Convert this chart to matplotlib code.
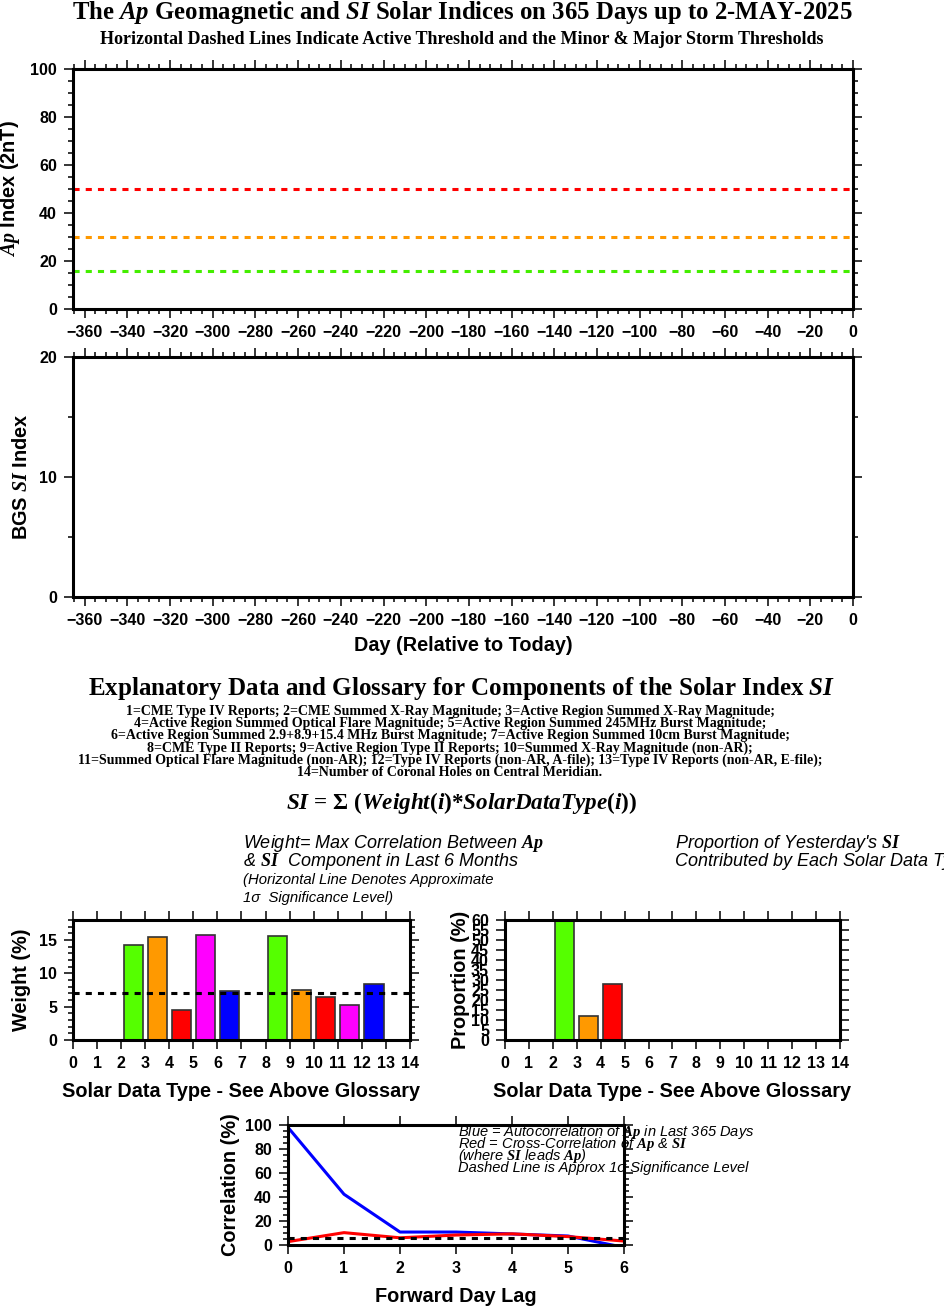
import matplotlib
matplotlib.use('Agg')
import matplotlib.pyplot as plt
from matplotlib.ticker import MultipleLocator

# thresholds on the Ap panel (active, minor storm, major storm)
ap_thresholds = [16, 30, 50]
ap_threshold_colors = ['#44ee00', '#ff9900', '#ff0000']

# weights and proportions per solar data type (1..14)
types = list(range(1, 15))
weights = [0, 0, 14.2, 15.4, 4.45, 15.7, 7.35, 0, 15.65, 7.45, 6.45, 5.2, 8.35, 0]
weight_sig = 7.07
proportions = [0, 0, 60.2, 12.0, 27.8, 0, 0, 0, 0, 0, 0, 0, 0, 0]
type_colors = ['#0000ff', '#ffffff', '#55ff00', '#ff9900', '#ff0000', '#ff00ff', '#0000ff',
               '#ffffff', '#55ff00', '#ff9900', '#ff0000', '#ff00ff', '#0000ff', '#ffffff']

# correlations vs forward lag
lags = [0, 1, 2, 3, 4, 5, 6]
auto_corr = [98, 42.3, 10.8, 10.8, 9.2, 7.5, -2]
cross_corr = [2.8, 10.3, 6.0, 8.3, 9.3, 7.0, 3.3]
corr_sig = 5.5

W, H = 945, 1307
plt.rcParams['font.family'] = ['Liberation Sans', 'DejaVu Sans']
plt.rcParams['font.weight'] = 'bold'
plt.rcParams['mathtext.fontset'] = 'custom'
plt.rcParams['mathtext.it'] = 'Liberation Serif:italic:bold'
plt.rcParams['mathtext.rm'] = 'Liberation Serif:bold'
plt.rcParams['mathtext.bf'] = 'Liberation Serif:bold'
plt.rcParams['axes.linewidth'] = 2.2

fig = plt.figure(figsize=(W / 100, H / 100), dpi=100)


def box(x0, y0, x1, y1):
    return [x0 / W, 1 - y1 / H, (x1 - x0) / W, (y1 - y0) / H]


def px(x, y):
    return x / W, 1 - y / H


def style_ticks(ax, size=11.5):
    ax.tick_params(which='both', direction='out', top=True, right=True, width=1.1,
                   labelsize=size, pad=5)
    ax.tick_params(which='major', length=6.5)
    ax.tick_params(which='minor', length=3.5)
    for lab in ax.get_xticklabels() + ax.get_yticklabels():
        lab.set_fontweight('bold')


LBL = 14.3

# --- Ap panel ---
ax1 = fig.add_axes(box(73, 69, 853, 309))
for v, c in zip(ap_thresholds, ap_threshold_colors):
    ax1.axhline(v, color=c, lw=2.2, ls=(0, (2, 2)))
ax1.set_xlim(-365.5, 0)
ax1.set_ylim(0, 100)
ax1.xaxis.set_major_locator(MultipleLocator(20))
ax1.xaxis.set_minor_locator(MultipleLocator(5))
ax1.yaxis.set_major_locator(MultipleLocator(20))
ax1.yaxis.set_minor_locator(MultipleLocator(5))
style_ticks(ax1)
ax1.set_ylabel(r'$Ap$ Index (2nT)', fontsize=LBL, fontweight='bold', labelpad=6)

# --- SI panel ---
ax2 = fig.add_axes(box(73, 357, 853, 597))
ax2.set_xlim(-365.5, 0)
ax2.set_ylim(0, 20)
ax2.xaxis.set_major_locator(MultipleLocator(20))
ax2.xaxis.set_minor_locator(MultipleLocator(5))
ax2.yaxis.set_major_locator(MultipleLocator(10))
ax2.yaxis.set_minor_locator(MultipleLocator(5))
style_ticks(ax2)
ax2.set_ylabel(r'BGS $SI$ Index', fontsize=LBL, fontweight='bold', labelpad=6)
ax2.set_xlabel('Day (Relative to Today)', fontsize=LBL, fontweight='bold', labelpad=6)

# --- titles and glossary ---
fig.text(*px(462, 13), r'The $Ap$ Geomagnetic and $SI$ Solar Indices on 365 Days up to 2-MAY-2025',
         family='Liberation Serif', fontsize=17.8, fontweight='bold', ha='center', va='center')
fig.text(*px(462, 39), 'Horizontal Dashed Lines Indicate Active Threshold and the Minor & Major Storm Thresholds',
         family='Liberation Serif', fontsize=13, fontweight='bold', ha='center', va='center')
fig.text(*px(462, 689), r'Explanatory Data and Glossary for Components of the Solar Index $SI$',
         family='Liberation Serif', fontsize=18, fontweight='bold', ha='center', va='center')
glossary = [
    '1=CME Type IV Reports; 2=CME Summed X-Ray Magnitude; 3=Active Region Summed X-Ray Magnitude;',
    '4=Active Region Summed Optical Flare Magnitude; 5=Active Region Summed 245MHz Burst Magnitude;',
    '6=Active Region Summed 2.9+8.9+15.4 MHz Burst Magnitude; 7=Active Region Summed 10cm Burst Magnitude;',
    '8=CME Type II Reports; 9=Active Region Type II Reports; 10=Summed X-Ray Magnitude (non-AR);',
    '11=Summed Optical Flare Magnitude (non-AR); 12=Type IV Reports (non-AR, A-file); 13=Type IV Reports (non-AR, E-file);',
    '14=Number of Coronal Holes on Central Meridian.',
]
for i, line in enumerate(glossary):
    fig.text(*px(450, 712 + 12 * i), line, family='Liberation Serif', fontsize=10,
             fontweight='bold', ha='center', va='center')
fig.text(*px(462, 803), r'$SI$ = $\Sigma$ ($Weight$($i$)*$SolarDataType$($i$))',
         family='Liberation Serif', fontsize=16.7, fontweight='bold', ha='center', va='center')

fig.text(*px(243, 843), r'Weight= Max Correlation Between $Ap$', fontsize=13,
         fontweight='normal', style='italic', va='center')
fig.text(*px(243, 861), r'& $SI$  Component in Last 6 Months', fontsize=13,
         fontweight='normal', style='italic', va='center')
fig.text(*px(243, 880), '(Horizontal Line Denotes Approximate', fontsize=10.7,
         fontweight='normal', style='italic', va='center')
fig.text(*px(243, 898), '1σ  Significance Level)', fontsize=10.7,
         fontweight='normal', style='italic', va='center')
fig.text(*px(675, 843), r"Proportion of Yesterday's $SI$", fontsize=13,
         fontweight='normal', style='italic', va='center')
fig.text(*px(675, 861), 'Contributed by Each Solar Data Type', fontsize=13,
         fontweight='normal', style='italic', va='center')

# --- weights bar chart ---
pos = [t - 0.5 for t in types]
ax3 = fig.add_axes(box(73, 920, 410, 1040))
ax3.bar(pos, weights, width=0.8, color=type_colors, edgecolor='#333333', linewidth=1.2)
ax3.axhline(weight_sig, color='black', lw=2.2, ls=(0, (2, 2)))
ax3.set_xlim(0, 14)
ax3.set_ylim(0, 18)
ax3.xaxis.set_major_locator(MultipleLocator(1))
ax3.yaxis.set_major_locator(MultipleLocator(5))
ax3.yaxis.set_minor_locator(MultipleLocator(1))
style_ticks(ax3)
ax3.set_ylabel('Weight (%)', fontsize=LBL, fontweight='bold', labelpad=6)
ax3.set_xlabel('Solar Data Type - See Above Glossary', fontsize=LBL, fontweight='bold',
               labelpad=8)

# --- proportion bar chart ---
ax4 = fig.add_axes(box(505, 920, 840, 1040))
ax4.bar(pos, proportions, width=0.8, color=type_colors, edgecolor='#333333', linewidth=1.2)
ax4.set_xlim(0, 14)
ax4.set_ylim(0, 60)
ax4.xaxis.set_major_locator(MultipleLocator(1))
ax4.yaxis.set_major_locator(MultipleLocator(5))
style_ticks(ax4)
ax4.set_ylabel('Proportion (%)', fontsize=LBL, fontweight='bold', labelpad=1)
ax4.set_xlabel('Solar Data Type - See Above Glossary', fontsize=LBL, fontweight='bold',
               labelpad=8)

# --- correlation chart ---
ax5 = fig.add_axes(box(288, 1125, 624, 1245))
ax5.plot(lags, auto_corr, color='#0000ff', lw=2.2)
ax5.plot(lags, cross_corr, color='#ff0000', lw=2.2)
ax5.axhline(corr_sig, color='black', lw=2.2, ls=(0, (2, 2)))
ax5.set_xlim(0, 6)
ax5.set_ylim(0, 100)
ax5.xaxis.set_major_locator(MultipleLocator(1))
ax5.yaxis.set_major_locator(MultipleLocator(20))
ax5.yaxis.set_minor_locator(MultipleLocator(5))
style_ticks(ax5)
ax5.set_ylabel('Correlation (%)', fontsize=LBL, fontweight='bold', labelpad=4)
ax5.set_xlabel('Forward Day Lag', fontsize=LBL, fontweight='bold', labelpad=8)
legend_lines = [
    r'Blue = Autocorrelation of $Ap$ in Last 365 Days',
    r'Red = Cross-Correlation of $Ap$ & $SI$',
    r'(where $SI$ leads $Ap$)',
    'Dashed Line is Approx 1σ Significance Level',
]
for i, line in enumerate(legend_lines):
    fig.text(*px(458, 1132 + 12 * i), line, fontsize=10.5, fontweight='normal',
             style='italic', va='center')

fig.savefig('out.png', dpi=100)
